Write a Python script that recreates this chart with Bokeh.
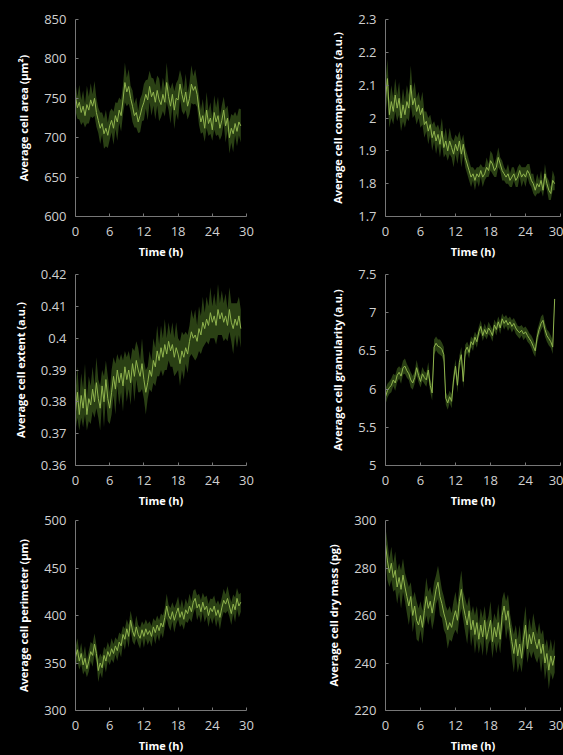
from bokeh.plotting import figure
from bokeh.layouts import column, row
from bokeh.models import Range1d, FixedTicker, CustomJSTickFormatter, ColumnDataSource
from bokeh.embed import file_html
from bokeh.resources import INLINE

# ---------------- data ----------------
x_ticks = [0, 6, 12, 18, 24, 30]
x_label = "Time (h)"
step_h = 1.0 / 3.0     # sampling every 20 min, 0 .. 29 h

area = [752,738,745,732,740,728,742,735,748,740,
        750,732,722,712,718,705,712,703,715,722,
        712,728,720,735,728,748,770,758,765,750,
        740,728,732,720,728,738,745,755,748,765,
        752,758,745,760,748,742,755,745,770,752,
        740,755,735,750,748,768,755,745,758,740,
        750,768,760,765,755,735,720,728,712,735,
        718,725,710,732,720,728,712,722,735,715,
        725,700,712,705,718,708,720,715]
area_sd = [18,14,22,16,20,15,24,17,21,15,
           22,18,16,20,14,19,23,16,18,15,
           21,17,24,16,20,19,25,18,22,16,
           20,15,19,14,21,17,23,18,26,20,
           24,17,22,19,27,16,21,18,25,17,
           22,15,24,19,26,18,21,16,23,17,
           20,24,18,22,16,19,15,21,17,23,
           16,20,14,22,18,24,15,19,17,21,
           16,20,18,23,15,19,17,21]

compact = [2.06,2.12,2.01,2.05,2.02,2.07,2.03,2.06,2.00,2.04,
           2.01,2.05,2.03,2.10,2.04,2.06,2.02,2.04,2.01,2.03,
           1.98,1.99,1.96,1.98,1.94,1.96,1.93,1.95,1.92,1.96,
           1.91,1.93,1.90,1.93,1.91,1.89,1.92,1.90,1.93,1.89,
           1.92,1.88,1.86,1.84,1.82,1.83,1.81,1.83,1.82,1.84,
           1.82,1.83,1.85,1.84,1.87,1.86,1.84,1.85,1.88,1.86,
           1.84,1.83,1.82,1.83,1.81,1.82,1.83,1.81,1.82,1.84,
           1.82,1.83,1.82,1.84,1.83,1.81,1.80,1.78,1.80,1.79,
           1.81,1.78,1.83,1.80,1.78,1.77,1.81,1.80]
compact_sd = [0.05,0.06,0.04,0.05,0.04,0.05,0.04,0.05,0.04,0.05,
              0.04,0.05,0.04,0.06,0.04,0.05,0.04,0.04,0.04,0.05,
              0.04,0.03,0.04,0.03,0.04,0.03,0.04,0.03,0.04,0.04,
              0.03,0.04,0.03,0.04,0.03,0.04,0.03,0.04,0.03,0.04,
              0.03,0.03,0.03,0.03,0.03,0.02,0.03,0.02,0.03,0.02,
              0.03,0.02,0.03,0.02,0.03,0.03,0.02,0.03,0.03,0.02,
              0.03,0.02,0.02,0.03,0.02,0.03,0.02,0.02,0.03,0.02,
              0.03,0.02,0.03,0.02,0.03,0.02,0.03,0.02,0.03,0.02,
              0.03,0.02,0.03,0.02,0.03,0.02,0.03,0.02]

extent = [0.377,0.383,0.376,0.382,0.378,0.384,0.376,0.381,0.379,0.384,
          0.380,0.386,0.381,0.378,0.385,0.380,0.387,0.381,0.378,0.383,
          0.388,0.384,0.390,0.386,0.389,0.385,0.391,0.387,0.390,0.386,
          0.392,0.388,0.393,0.390,0.388,0.392,0.387,0.383,0.386,0.390,
          0.388,0.393,0.391,0.396,0.393,0.397,0.394,0.398,0.395,0.399,
          0.396,0.398,0.394,0.397,0.395,0.392,0.396,0.394,0.397,0.395,
          0.399,0.402,0.400,0.401,0.399,0.403,0.401,0.405,0.403,0.406,
          0.404,0.408,0.405,0.407,0.404,0.409,0.406,0.408,0.405,0.407,
          0.404,0.409,0.405,0.403,0.406,0.404,0.407,0.403]
extent_sd = [0.006,0.008,0.005,0.007,0.006,0.008,0.005,0.007,0.006,0.007,
             0.005,0.008,0.006,0.007,0.005,0.008,0.006,0.007,0.005,0.007,
             0.006,0.008,0.005,0.007,0.006,0.008,0.005,0.007,0.006,0.007,
             0.005,0.008,0.006,0.007,0.005,0.008,0.006,0.007,0.005,0.006,
             0.005,0.007,0.006,0.008,0.005,0.007,0.006,0.008,0.005,0.006,
             0.005,0.007,0.006,0.008,0.005,0.007,0.006,0.007,0.005,0.006,
             0.005,0.007,0.006,0.008,0.005,0.007,0.006,0.008,0.005,0.007,
             0.006,0.008,0.005,0.007,0.006,0.008,0.005,0.007,0.006,0.007,
             0.005,0.007,0.006,0.008,0.005,0.007,0.006,0.006]

granul = [5.90,5.98,6.02,6.05,6.12,6.08,6.18,6.22,6.17,6.28,
          6.30,6.24,6.20,6.12,6.08,6.15,6.28,6.18,6.10,6.20,
          6.15,6.12,6.25,6.05,5.95,6.55,6.60,6.56,6.55,6.52,
          6.45,5.88,5.82,5.90,5.84,6.12,6.30,6.05,6.35,6.45,
          6.10,6.50,6.55,6.48,6.62,6.58,6.68,6.62,6.75,6.82,
          6.70,6.78,6.72,6.80,6.76,6.70,6.84,6.78,6.88,6.80,
          6.92,6.86,6.90,6.84,6.88,6.82,6.86,6.80,6.76,6.74,
          6.77,6.72,6.75,6.70,6.66,6.62,6.56,6.50,6.68,6.78,
          6.86,6.90,6.78,6.70,6.66,6.62,6.55,7.18]
granul_sd = [0.10,0.09,0.08,0.09,0.08,0.10,0.09,0.08,0.10,0.09,
             0.10,0.09,0.08,0.10,0.09,0.08,0.10,0.09,0.08,0.09,
             0.08,0.09,0.10,0.09,0.10,0.10,0.09,0.09,0.10,0.09,
             0.10,0.08,0.09,0.08,0.09,0.10,0.09,0.10,0.09,0.10,
             0.09,0.08,0.07,0.08,0.07,0.08,0.07,0.08,0.07,0.08,
             0.07,0.08,0.07,0.08,0.07,0.08,0.07,0.08,0.07,0.08,
             0.07,0.08,0.07,0.08,0.07,0.08,0.07,0.08,0.07,0.08,
             0.07,0.08,0.07,0.08,0.07,0.08,0.09,0.08,0.09,0.08,
             0.09,0.08,0.09,0.08,0.09,0.08,0.09,0.02]

perim = [356,364,352,360,348,355,344,352,362,358,
         370,360,342,350,345,358,352,362,357,365,
         360,368,363,372,368,380,375,386,378,395,
         384,378,388,380,376,385,378,386,380,384,
         378,388,382,390,384,392,388,398,410,400,
         396,404,395,402,408,398,404,396,406,402,
         410,404,414,418,408,412,404,414,406,410,
         400,408,404,410,400,406,398,408,416,412,
         418,410,402,412,406,418,410,414]
perim_sd = [10,12,9,11,10,13,9,11,10,12,
            11,9,12,10,11,9,12,10,9,11,
            10,9,11,10,12,9,11,10,12,10,
            11,9,12,10,11,9,12,10,11,10,
            11,9,12,10,11,10,12,10,13,11,
            12,10,13,11,12,10,13,11,12,10,
            13,11,12,10,13,11,12,10,13,11,
            12,10,13,11,12,10,13,11,12,10,
            13,11,12,10,13,11,12,10]

drymass = [290,283,278,282,276,279,272,276,271,277,
           272,268,264,268,260,264,258,256,260,255,
           262,268,263,266,261,266,271,274,268,265,
           261,258,254,257,255,259,262,258,266,271,
           264,260,256,262,254,258,252,257,250,256,
           251,258,250,254,258,249,255,251,257,250,
           260,264,258,262,255,249,244,250,243,248,
           242,250,256,246,252,248,253,249,246,250,
           244,248,240,244,237,243,239,243]
drymass_sd = [7,8,6,7,6,8,7,6,8,7,
              6,7,8,6,7,6,8,7,6,7,
              6,8,7,6,7,8,6,7,8,6,
              7,6,8,7,6,7,8,6,7,8,
              6,7,8,6,7,6,8,7,6,7,
              8,6,7,6,8,7,6,7,8,6,
              7,6,8,7,6,7,8,6,7,8,
              6,7,8,6,7,6,8,7,6,7,
              8,6,7,6,8,7,6,7]

panels = [
    dict(y=area, sd=area_sd, yr=(600, 850), yticks=[600, 650, 700, 750, 800, 850],
         ylabel="Average cell area (µm²)"),
    dict(y=compact, sd=compact_sd, yr=(1.7, 2.3), yticks=[1.7, 1.8, 1.9, 2.0, 2.1, 2.2, 2.3],
         ylabel="Average cell compactness (a.u.)"),
    dict(y=extent, sd=extent_sd, yr=(0.36, 0.42), yticks=[0.36, 0.37, 0.38, 0.39, 0.40, 0.41, 0.42],
         ylabel="Average cell extent (a.u.)"),
    dict(y=granul, sd=granul_sd, yr=(5.0, 7.5), yticks=[5.0, 5.5, 6.0, 6.5, 7.0, 7.5],
         ylabel="Average cell granularity (a.u.)"),
    dict(y=perim, sd=perim_sd, yr=(300, 500), yticks=[300, 350, 400, 450, 500],
         ylabel="Average cell perimeter (µm)"),
    dict(y=drymass, sd=drymass_sd, yr=(220, 300), yticks=[220, 240, 260, 280, 300],
         ylabel="Average cell dry mass (pg)"),
]

# ---------------- styling ----------------
LINE = "#90b44e"
BAND = "#2c4315"
AXIS = "#777777"
TICKTXT = "#d0d0d0"
FONT = "Open Sans"

fmt = CustomJSTickFormatter(code="return String(Math.round(tick*1000)/1000);")

COLS = [dict(width=278, mbl=75, mbr=32), dict(width=285, mbl=107, mbr=3)]
ROWS = [dict(height=264, mbt=19, mbb=48),
        dict(height=246, mbt=10, mbb=40),
        dict(height=245, mbt=10, mbb=44)]


def make_panel(d, col, r):
    c, rr = COLS[col], ROWS[r]
    p = figure(width=c["width"], height=rr["height"],
               x_range=Range1d(0, 30), y_range=Range1d(*d["yr"]),
               output_backend="svg", toolbar_location=None,
               min_border_left=c["mbl"], min_border_right=c["mbr"],
               min_border_top=rr["mbt"], min_border_bottom=rr["mbb"],
               background_fill_color="black", border_fill_color="black",
               outline_line_color=None)
    t = [i * step_h for i in range(len(d["y"]))]
    lo = [v - s for v, s in zip(d["y"], d["sd"])]
    hi = [v + s for v, s in zip(d["y"], d["sd"])]
    src = ColumnDataSource(dict(t=t, y=d["y"], lo=lo, hi=hi))
    p.varea(x="t", y1="lo", y2="hi", source=src, fill_color=BAND, fill_alpha=0.95)
    p.line(x="t", y="y", source=src, line_color=LINE, line_width=1.0)

    p.xgrid.visible = False
    p.ygrid.visible = False

    for ax in (p.xaxis[0], p.yaxis[0]):
        ax.axis_line_color = AXIS
        ax.major_tick_line_color = AXIS
        ax.major_tick_in = 3
        ax.major_tick_out = 0
        ax.minor_tick_line_color = None
        ax.major_label_text_font = FONT
        ax.major_label_text_font_size = "13px"
        ax.major_label_text_color = TICKTXT
        ax.axis_label_text_font = FONT
        ax.axis_label_text_font_style = "bold"
        ax.axis_label_text_font_size = "11px"
        ax.axis_label_text_color = "white"

    p.xaxis.ticker = FixedTicker(ticks=x_ticks)
    p.xaxis.axis_label = x_label
    p.xaxis.major_label_standoff = 10
    p.xaxis.axis_label_standoff = 5

    p.yaxis.ticker = FixedTicker(ticks=d["yticks"])
    p.yaxis.formatter = fmt
    p.yaxis.axis_label = d["ylabel"]
    p.yaxis.major_label_standoff = 9
    p.yaxis.axis_label_standoff = 10
    return p


BG = {"background-color": "black"}
figs = [make_panel(d, i % 2, i // 2) for i, d in enumerate(panels)]
layout = column(row(figs[0], figs[1], styles=BG),
                row(figs[2], figs[3], styles=BG),
                row(figs[4], figs[5], styles=BG),
                styles=BG)

open("out.html", "w").write(file_html(layout, INLINE))
